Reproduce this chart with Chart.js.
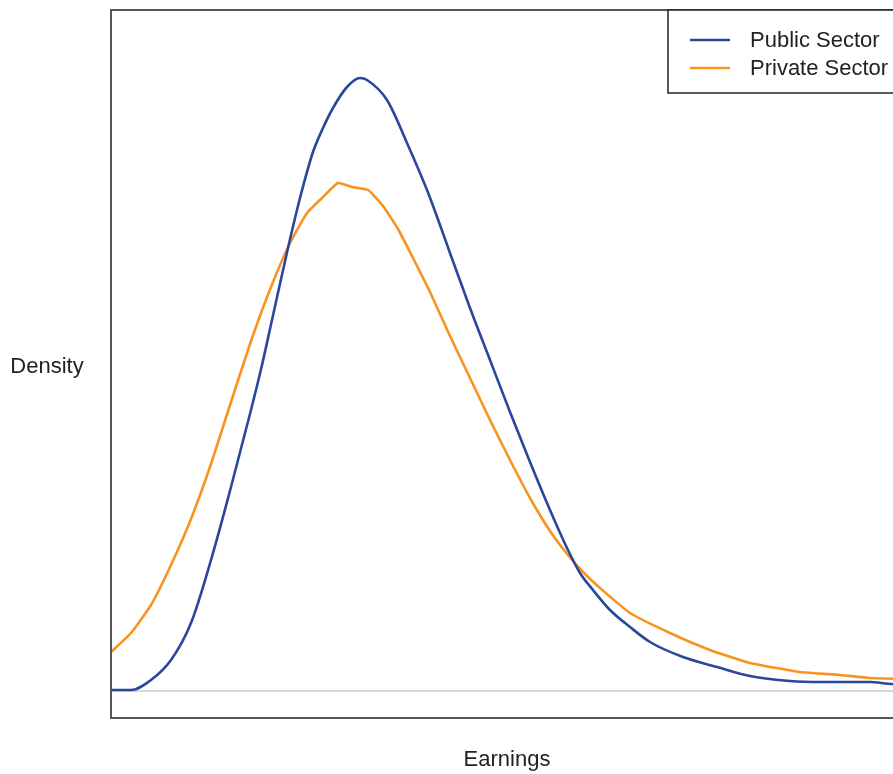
<!DOCTYPE html>
<html>
<head>
<meta charset="utf-8">
<script src="https://cdn.jsdelivr.net/npm/chart.js@4/dist/chart.umd.min.js"></script>
<style>
  html, body { margin: 0; padding: 0; overflow: hidden; background: #fff; }
  #wrap { width: 910px; height: 774px; position: relative; }
</style>
</head>
<body>
<div id="wrap"><canvas id="c"></canvas></div>
<script>
// Earnings positions (arbitrary units) and density estimates
const publicEarnings = [0, 20, 40, 60, 80, 100, 120, 140, 151, 161, 177, 189, 202, 212, 222, 236, 249, 256, 276, 296, 316, 329, 339, 359, 379, 399, 419, 439, 456, 469, 482, 499, 519, 539, 572, 606, 639, 679, 709, 759, 782, 794];
const publicDensity = [0.001, 0.001, 0.011, 0.031, 0.068, 0.131, 0.204, 0.281, 0.326, 0.371, 0.443, 0.493, 0.539, 0.563, 0.583, 0.604, 0.613, 0.611, 0.591, 0.548, 0.501, 0.466, 0.438, 0.383, 0.331, 0.279, 0.229, 0.181, 0.143, 0.118, 0.101, 0.081, 0.064, 0.049, 0.034, 0.024, 0.015, 0.010, 0.009, 0.009, 0.007, 0.007];

const privateEarnings = [0, 20, 40, 60, 80, 100, 120, 140, 160, 179, 196, 212, 227, 241, 257, 272, 287, 303, 319, 339, 359, 379, 399, 419, 439, 457, 474, 489, 519, 559, 599, 639, 689, 729, 759, 794];
const privateDensity = [0.039, 0.058, 0.086, 0.126, 0.172, 0.227, 0.289, 0.350, 0.404, 0.448, 0.478, 0.494, 0.508, 0.504, 0.501, 0.485, 0.462, 0.431, 0.399, 0.355, 0.313, 0.271, 0.231, 0.193, 0.160, 0.136, 0.117, 0.103, 0.078, 0.058, 0.041, 0.028, 0.019, 0.016, 0.013, 0.012];

const seriesNames = ['Public Sector', 'Private Sector'];
const xTitle = 'Earnings';
const yTitle = 'Density';

const toPoints = (xs, ys) => xs.map((x, i) => ({ x: x, y: ys[i] }));

const FONT = '"Liberation Sans", Arial, sans-serif';

const framePlugin = {
  id: 'frame',
  beforeDatasetsDraw(chart) {
    const { ctx, chartArea: a, scales } = chart;
    const y0 = scales.y.getPixelForValue(0);
    ctx.save();
    ctx.strokeStyle = '#d6d6d6';
    ctx.lineWidth = 2;
    ctx.beginPath();
    ctx.moveTo(a.left, y0);
    ctx.lineTo(a.right, y0);
    ctx.stroke();
    ctx.restore();
  },
  afterDraw(chart) {
    const { ctx, chartArea: a } = chart;
    ctx.save();
    // plot frame
    ctx.strokeStyle = '#555555';
    ctx.lineWidth = 2;
    ctx.strokeRect(a.left, a.top, a.right - a.left, a.bottom - a.top);

    // legend box (top right)
    const boxW = 237, boxH = 83;
    const bx = a.right - boxW, by = a.top;
    ctx.fillStyle = '#ffffff';
    ctx.fillRect(bx, by, boxW, boxH);
    ctx.strokeStyle = '#222222';
    ctx.lineWidth = 1.5;
    ctx.strokeRect(bx, by, boxW, boxH);
    ctx.font = '22px ' + FONT;
    ctx.textBaseline = 'middle';
    ctx.textAlign = 'left';
    chart.data.datasets.forEach((ds, i) => {
      const ly = by + 30 + i * 28;
      ctx.strokeStyle = ds.borderColor;
      ctx.lineWidth = 2.5;
      ctx.beginPath();
      ctx.moveTo(bx + 22, ly);
      ctx.lineTo(bx + 62, ly);
      ctx.stroke();
      ctx.fillStyle = '#222222';
      ctx.fillText(ds.label, bx + 82, ly + 1);
    });

    // axis titles
    ctx.fillStyle = '#222222';
    ctx.font = '22px ' + FONT;
    ctx.textAlign = 'center';
    ctx.textBaseline = 'middle';
    ctx.fillText(yTitle, 47, 367);
    ctx.fillText(xTitle, 507, 760);
    ctx.restore();
  }
};

new Chart(document.getElementById('c'), {
  type: 'line',
  data: {
    datasets: [
      {
        label: seriesNames[0],
        data: toPoints(publicEarnings, publicDensity),
        borderColor: '#2A479B',
        borderWidth: 2.6,
        pointRadius: 0,
        cubicInterpolationMode: 'monotone',
        fill: false
      },
      {
        label: seriesNames[1],
        data: toPoints(privateEarnings, privateDensity),
        borderColor: '#F8941E',
        borderWidth: 2.6,
        pointRadius: 0,
        tension: 0.15,
        fill: false
      }
    ]
  },
  options: {
    responsive: true,
    maintainAspectRatio: false,
    animation: false,
    devicePixelRatio: 1,
    layout: { padding: { left: 111, top: 10, right: 5, bottom: 56 } },
    plugins: { legend: { display: false }, tooltip: { enabled: false } },
    scales: {
      x: { type: 'linear', min: 0, max: 794, display: false },
      y: { type: 'linear', min: -0.027, max: 0.681, display: false }
    }
  },
  plugins: [framePlugin]
});
</script>
</body>
</html>
